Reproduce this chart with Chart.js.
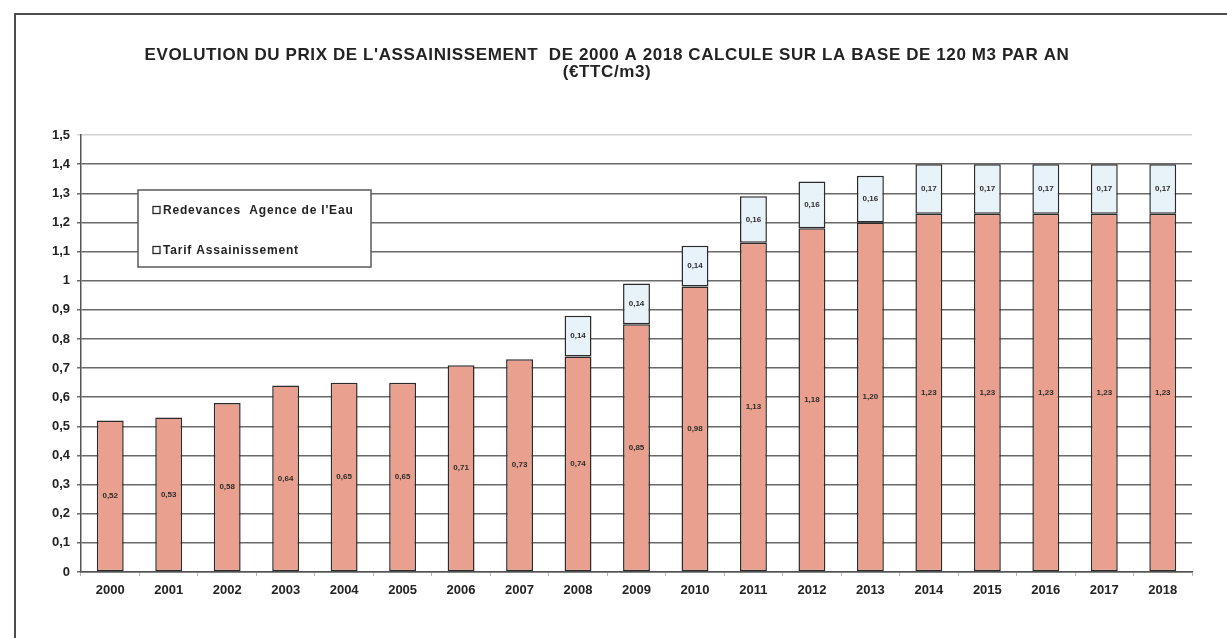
<!DOCTYPE html>
<html lang="fr">
<head>
<meta charset="utf-8">
<title>Evolution du prix de l'assainissement</title>
<script src="https://cdn.jsdelivr.net/npm/chart.js@4.4.1/dist/chart.umd.min.js"></script>
<style>
  html, body { margin: 0; padding: 0; background: #ffffff; }
  #wrap { position: relative; width: 1227px; height: 638px; overflow: hidden; background: #fff; }
  #frame { position: absolute; left: 14px; top: 13px; width: 1260px; height: 700px;
           border-left: 2px solid #4d4d4d; border-top: 2px solid #4d4d4d; }
  #c { position: absolute; left: 0; top: 0; }
</style>
</head>
<body>
<div id="wrap">
  <div id="frame"></div>
  <canvas id="c" width="1227" height="638"></canvas>
</div>
<script>
// Years on the horizontal axis
const years = ['2000', '2001', '2002', '2003', '2004', '2005', '2006', '2007', '2008', '2009',
               '2010', '2011', '2012', '2013', '2014', '2015', '2016', '2017', '2018'];

// Sanitation tariff (€ TTC / m3)
const tarifAssainissement = [0.52, 0.53, 0.58, 0.64, 0.65, 0.65, 0.71, 0.73, 0.74, 0.85,
                             0.98, 1.13, 1.18, 1.20, 1.23, 1.23, 1.23, 1.23, 1.23];

// Water agency fees (€ TTC / m3), none before 2008
const redevancesAgence = [null, null, null, null, null, null, null, null, 0.14, 0.14,
                          0.14, 0.16, 0.16, 0.16, 0.17, 0.17, 0.17, 0.17, 0.17];

// Series names, in legend order (top to bottom)
const seriesNames = ["Redevances  Agence de l'Eau", 'Tarif Assainissement'];

// Title lines
const titleLines = ["EVOLUTION DU PRIX DE L'ASSAINISSEMENT  DE 2000 A 2018 CALCULE SUR LA BASE DE 120 M3 PAR AN",
                    '(€TTC/m3)'];

// Value axis range
const yMin = 0, yMax = 1.5, yStep = 0.1;

const FONT = '"Liberation Sans", Arial, Helvetica, sans-serif';
const TEXT = '#232323';
const SALMON = '#e9a08e';
const ICE = '#e8f2f9';
const EDGE = '#2b2b2b';

const frNum = (v, d) => {
  const r = Math.round(v * Math.pow(10, d)) / Math.pow(10, d);
  return r.toFixed(d).replace('.', ',');
};
const frTick = v => String(Math.round(v * 10) / 10).replace('.', ',');

// Value written in the middle of each bar segment
const segmentLabels = {
  id: 'segmentLabels',
  afterDatasetsDraw(chart) {
    const ctx = chart.ctx;
    ctx.save();
    ctx.font = 'bold 8px ' + FONT;
    ctx.fillStyle = '#2d2d2d';
    ctx.textAlign = 'center';
    ctx.textBaseline = 'middle';
    chart.data.datasets.forEach((ds, i) => {
      const meta = chart.getDatasetMeta(i);
      meta.data.forEach((bar, j) => {
        const v = ds.data[j];
        if (v == null) return;
        const p = bar.getProps(['x', 'y', 'base'], true);
        ctx.fillText(frNum(v, 2), p.x, (p.y + p.base) / 2);
      });
    });
    ctx.restore();
  }
};

// Title and boxed legend
const headerAndKey = {
  id: 'headerAndKey',
  afterDraw(chart) {
    const ctx = chart.ctx;
    ctx.save();
    ctx.fillStyle = TEXT;
    ctx.textAlign = 'center';
    ctx.textBaseline = 'middle';
    ctx.font = 'bold 17px ' + FONT;
    if ('letterSpacing' in ctx) ctx.letterSpacing = '0.6px';
    ctx.fillText(titleLines[0], 607, 55);
    ctx.fillText(titleLines[1], 607, 72);

    // legend box
    const bx = 138, by = 190, bw = 233, bh = 77;
    ctx.fillStyle = '#ffffff';
    ctx.fillRect(bx, by, bw, bh);
    ctx.strokeStyle = '#5a5a5a';
    ctx.lineWidth = 1.5;
    ctx.strokeRect(bx, by, bw, bh);

    ctx.font = 'bold 12px ' + FONT;
    if ('letterSpacing' in ctx) ctx.letterSpacing = '0.8px';
    ctx.textAlign = 'left';
    const rows = [210, 250];
    seriesNames.forEach((name, k) => {
      const yy = rows[k];
      ctx.fillStyle = '#ffffff';
      ctx.fillRect(153, yy - 3.5, 7, 7);
      ctx.strokeStyle = '#2a2a2a';
      ctx.lineWidth = 1.3;
      ctx.strokeRect(153, yy - 3.5, 7, 7);
      ctx.fillStyle = TEXT;
      ctx.fillText(name, 163, yy + 0.5);
    });
    ctx.restore();
  }
};

new Chart(document.getElementById('c'), {
  type: 'bar',
  data: {
    labels: years,
    datasets: [
      {
        label: seriesNames[1],
        data: tarifAssainissement,
        backgroundColor: SALMON,
        borderColor: EDGE,
        borderWidth: 1.5,
        borderSkipped: false,
        categoryPercentage: 1,
        barPercentage: 0.46
      },
      {
        label: seriesNames[0],
        data: redevancesAgence,
        backgroundColor: ICE,
        borderColor: EDGE,
        borderWidth: 1.5,
        borderSkipped: false,
        categoryPercentage: 1,
        barPercentage: 0.46
      }
    ]
  },
  options: {
    responsive: false,
    animation: false,
    devicePixelRatio: 1,
    layout: { padding: { left: 16, top: 135, right: 35, bottom: 28 } },
    plugins: {
      legend: { display: false },
      title: { display: false },
      tooltip: { enabled: false }
    },
    scales: {
      x: {
        stacked: true,
        grid: { drawOnChartArea: false, drawTicks: true, tickLength: 4, color: '#b5b5b5', offset: true },
        border: { display: true, color: '#555', width: 1.5 },
        ticks: {
          font: { family: FONT, size: 13, weight: 'bold' },
          color: TEXT,
          padding: 7,
          maxRotation: 0,
          autoSkip: false
        },
        afterFit(scale) { scale.height = 38; }
      },
      y: {
        stacked: true,
        min: yMin,
        max: yMax,
        ticks: {
          stepSize: yStep,
          callback: v => frTick(v),
          font: { family: FONT, size: 13, weight: 'bold' },
          color: TEXT,
          padding: 7
        },
        grid: {
          color: c => (c.tick && c.tick.value >= yMax - 1e-9) ? '#cfcfcf' : '#6a6a6a',
          lineWidth: 1.5,
          tickLength: 4
        },
        border: { color: '#555', width: 1.5 },
        afterFit(scale) { scale.width = 65; }
      }
    }
  },
  plugins: [segmentLabels, headerAndKey]
});
</script>
</body>
</html>
